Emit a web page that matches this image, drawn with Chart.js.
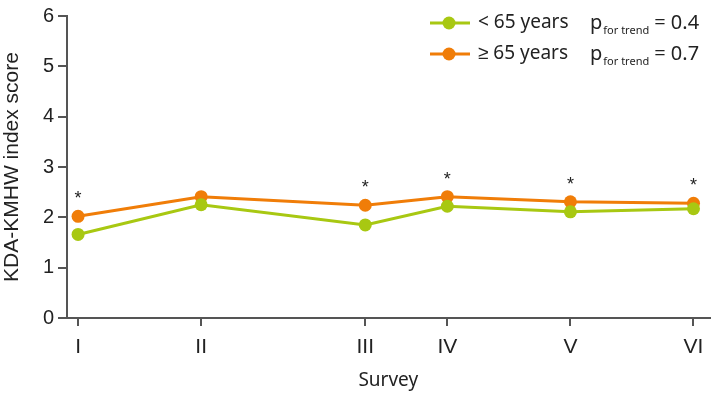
<!DOCTYPE html>
<html>
<head>
<meta charset="utf-8">
<script src="https://cdn.jsdelivr.net/npm/chart.js@4"></script>
<style>
  html, body { margin: 0; padding: 0; background: #fff; }
  #wrap { width: 716px; height: 394px; }
</style>
</head>
<body>
<div id="wrap"><canvas id="chart"></canvas></div>
<script>
// survey rounds, placed on a year axis so the spacing matches
const surveys = ['I', 'II', 'III', 'IV', 'V', 'VI'];
const surveyYears = [1998, 2001, 2005, 2007, 2010, 2013];
const under65 = [1.66, 2.25, 1.85, 2.22, 2.11, 2.17];
const over65 = [2.02, 2.41, 2.24, 2.41, 2.31, 2.28];
const starred = [true, false, true, true, true, true];
const seriesNames = ['< 65 years', '\u2265 65 years'];
const pTrend = ['0.4', '0.7'];
const yTicks = [0, 1, 2, 3, 4, 5, 6];

const GREEN = '#a8c812';
const ORANGE = '#f07d08';
const AXIS = '#555';
const TEXT = '#222';
const ARIAL = "'Liberation Sans', Arial, sans-serif";
const NOTO = "'Noto Sans', sans-serif";

function toPoints(vals) {
  return vals.map((v, i) => ({ x: surveyYears[i], y: v }));
}

// legend with the p for trend text, and the * marks over the orange points
const extras = {
  id: 'extras',
  afterDraw(chart) {
    const ctx = chart.ctx;
    ctx.save();
    const colors = [GREEN, ORANGE];
    for (let i = 0; i < 2; i++) {
      const y = 23 + 31 * i;
      ctx.strokeStyle = colors[i];
      ctx.lineWidth = 3;
      ctx.beginPath();
      ctx.moveTo(430, y);
      ctx.lineTo(470, y);
      ctx.stroke();
      ctx.fillStyle = colors[i];
      ctx.beginPath();
      ctx.arc(449, y, 6.5, 0, Math.PI * 2);
      ctx.fill();

      ctx.fillStyle = TEXT;
      ctx.textBaseline = 'middle';
      ctx.textAlign = 'left';
      ctx.font = '19px ' + NOTO;
      ctx.fillText(seriesNames[i], 478, y);
      ctx.font = '20px ' + NOTO;
      ctx.fillText('p', 590, y);
      let px = 590 + ctx.measureText('p').width + 1;
      ctx.font = '11px ' + NOTO;
      ctx.fillText('for trend', px, y + 8);
      px += ctx.measureText('for trend').width + 5;
      ctx.font = '20px ' + NOTO;
      ctx.fillText('= ' + pTrend[i], px, y);
    }

    const meta = chart.getDatasetMeta(1);
    ctx.fillStyle = TEXT;
    ctx.font = '18px ' + ARIAL;
    ctx.textAlign = 'center';
    ctx.textBaseline = 'middle';
    meta.data.forEach((pt, i) => {
      if (starred[i]) ctx.fillText('*', pt.x, pt.y - 17);
    });
    ctx.restore();
  }
};

new Chart('chart', {
  type: 'line',
  data: {
    datasets: [
      {
        label: seriesNames[0],
        data: toPoints(under65),
        borderColor: GREEN,
        backgroundColor: GREEN,
        borderWidth: 3,
        pointRadius: 6.5,
        pointBorderWidth: 0,
        tension: 0
      },
      {
        label: seriesNames[1],
        data: toPoints(over65),
        borderColor: ORANGE,
        backgroundColor: ORANGE,
        borderWidth: 3,
        pointRadius: 6.5,
        pointBorderWidth: 0,
        tension: 0
      }
    ]
  },
  options: {
    responsive: true,
    maintainAspectRatio: false,
    animation: false,
    layout: { padding: { top: 11, right: 3, left: 0, bottom: 0 } },
    plugins: {
      legend: { display: false },
      tooltip: { enabled: false }
    },
    scales: {
      x: {
        type: 'linear',
        min: 1997.73,
        max: 2013.39,
        afterBuildTicks: (axis) => { axis.ticks = surveyYears.map(v => ({ value: v })); },
        afterFit: (axis) => { axis.height = 76; },
        ticks: {
          color: TEXT,
          font: { family: ARIAL, size: 21 },
          padding: 9,
          maxRotation: 0,
          autoSkip: false,
          callback: (v) => surveys[surveyYears.indexOf(v)]
        },
        grid: { drawOnChartArea: false, drawTicks: true, tickLength: 8, color: AXIS, lineWidth: 2 },
        border: { display: true, color: AXIS, width: 2 },
        title: {
          display: true,
          text: 'Survey',
          color: TEXT,
          font: { family: 'Noto Sans', size: 19 },
          padding: { top: 0, bottom: 2 }
        }
      },
      y: {
        min: 0,
        max: 6,
        afterBuildTicks: (axis) => { axis.ticks = yTicks.map(v => ({ value: v })); },
        afterFit: (axis) => { axis.width = 67; },
        ticks: {
          color: TEXT,
          font: { family: ARIAL, size: 20 },
          padding: 4
        },
        grid: { drawOnChartArea: false, drawTicks: true, tickLength: 9, color: AXIS, lineWidth: 2 },
        border: { display: true, color: AXIS, width: 2 },
        title: {
          display: true,
          text: 'KDA-KMHW index score',
          color: TEXT,
          font: { family: ARIAL, size: 21 },
          padding: { top: 0, bottom: 0 }
        }
      }
    }
  },
  plugins: [extras]
});
</script>
</body>
</html>
